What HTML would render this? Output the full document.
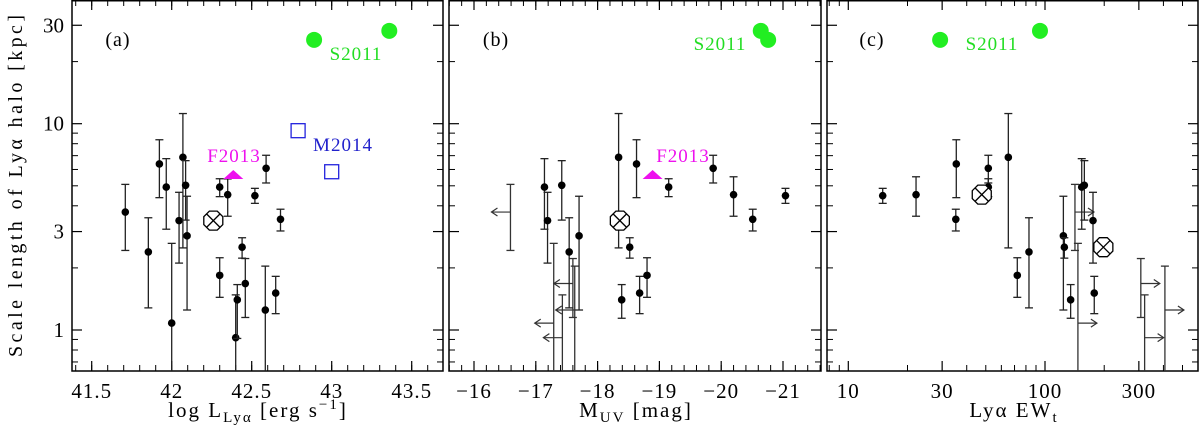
<!DOCTYPE html>
<html><head><meta charset="utf-8"><style>
html,body{margin:0;padding:0;background:#fff;}
svg{display:block;font-family:"Liberation Serif",serif;}
</style></head><body>
<svg id="chart" width="1200" height="431" viewBox="0 0 1200 431" xmlns="http://www.w3.org/2000/svg">
<text transform="translate(22,186) rotate(-90)" text-anchor="middle" font-size="20" textLength="342" lengthAdjust="spacing">Scale length of Lyα halo [kpc]</text>
<g id="pa"></g>
<g id="pb"></g>
<g id="pc"></g>
</svg>
<script>
// ---- data ----
const aLum = [41.71,41.854,41.923,41.966,42.00,42.046,42.07,42.087,42.096,42.30,42.30,42.35,42.40,42.41,42.44,42.46,42.52,42.585,42.59,42.65,42.68];
const aR   = [3.73,2.39,6.38,4.93,1.08,3.39,6.87,5.03,2.86,4.93,1.84,4.53,0.918,1.40,2.52,1.68,4.48,1.25,6.08,1.51,3.44];
const aHi  = [5.08,3.50,8.36,6.77,2.63,4.65,11.2,6.62,4.45,5.41,2.24,5.40,1.48,1.66,2.80,2.22,4.86,2.04,7.03,1.82,3.85];
const aLo  = [2.43,1.28,4.38,3.08,0.5,2.11,2.50,3.41,1.25,4.43,1.44,3.56,0.5,0.91,2.23,1.15,4.11,0.5,5.16,1.20,3.02];
const aStack = [42.26]; const aStackR = [3.39];
const aF2013 = [42.385]; const aF2013R = [5.64];
const aM2014 = [42.79,43.0]; const aM2014R = [9.25,5.85];
const aS2011 = [42.89,43.36]; const aS2011R = [25.5,28.2];

const bMuv = [-17.14,-17.19,-17.42,-17.54,-17.70,-18.34,-18.39,-18.52,-18.63,-18.68,-18.80,-19.15,-19.87,-20.20,-20.51,-21.04];
const bR   = [4.93,3.39,5.03,2.39,2.86,6.87,1.40,2.52,6.38,1.51,1.84,4.93,6.08,4.53,3.44,4.48];
const bHi  = [6.77,4.65,6.62,3.50,4.45,11.2,1.66,2.80,8.36,1.82,2.24,5.41,7.03,5.53,3.85,4.86];
const bLo  = [3.08,2.11,3.41,1.28,1.25,2.50,1.14,2.23,4.38,1.20,1.44,4.43,5.16,3.56,3.02,4.11];
const bLimM = [-16.59,-17.29,-17.43,-17.60,-17.63];
const bLimR = [3.73,1.08,0.918,1.68,1.25];
const bLimHi= [5.08,2.63,1.48,2.22,2.04];
const bLimLo= [2.43,0.5,0.5,1.15,0.5];
const bStack = [-18.36]; const bStackR = [3.39];
const bF2013 = [-18.89]; const bF2013R = [5.64];
const bS2011 = [-20.64,-20.76]; const bS2011R = [28.2,25.5];

const cEW = [14.96,22.1,35.4,35.2,51.5,51.5,65.1,72.3,82.9,124,125.4,135,153.7,158.5,175.4,178];
const cR  = [4.48,4.53,6.38,3.44,6.08,4.93,6.87,1.84,2.39,2.86,2.52,1.40,4.93,5.03,3.39,1.51];
const cHi = [4.86,5.53,8.36,3.85,7.03,5.41,11.2,2.24,3.50,4.45,2.80,1.66,6.77,6.62,4.65,1.82];
const cLo = [4.11,3.56,4.38,3.02,5.16,4.43,2.50,1.44,1.28,1.25,2.23,1.14,3.08,3.41,2.11,1.20];
const cLimEW = [142,147,307,321,407];
const cLimR  = [3.73,1.08,1.68,0.918,1.25];
const cLimHi = [5.08,2.63,2.22,1.48,2.04];
const cLimLo = [2.43,0.5,1.15,0.5,0.5];
const cStack = [47.7,198]; const cStackR = [4.53,2.52];
const cS2011 = [29.3,94.3]; const cS2011R = [25.5,28.2];

const yMajor = [1,3,10,30];
const yLabels = ['1','3','10','30'];
const yMinor = [0.7,0.8,0.9,2,4,5,6,7,8,9,20];
const aTicks = [41.5,42,42.5,43,43.5];
const bTicks = [-16,-17,-18,-19,-20,-21];
const cTicks = [10,30,100,300];
const cMinor = [8,9,20,40,50,60,70,80,90,200,400,500];

// ---- scales ----
const BOT=371;
function yS(v){ return 330 - 206.3*Math.log10(v); }
function xa(v){ return 171.7 + 160*(v-42); }
function xb(m){ return 474 + 61.8*(-m-16); }
function xc(e){ return 848.3 + 196.7*Math.log10(e/10); }
const NS='http://www.w3.org/2000/svg';
function mk(parent, tag, attrs){ const el=document.createElementNS(NS,tag); for(const k in attrs) el.setAttribute(k,attrs[k]); parent.appendChild(el); return el; }
function cy(v){ return Math.min(BOT, yS(v)); }

function frame(g, L, R, xs, ticks, minor, labels, yl){
  const r=mk(g,'rect',{x:L,y:0.75,width:R-L,height:BOT-0.75,fill:'none',stroke:'#000','stroke-width':1.5});
  
  
  yMajor.forEach((v,i)=>{ const y=yS(v);
    mk(g,'line',{x1:L,x2:L+10,y1:y,y2:y,stroke:'#000','stroke-width':1.2});
    mk(g,'line',{x1:R,x2:R-10,y1:y,y2:y,stroke:'#000','stroke-width':1.2});
    if(yl){ const t=mk(g,'text',{x:L-8,y:y+7,'text-anchor':'end','font-size':21});
      
      
      t.textContent=yLabels[i]; } });
  yMinor.forEach(v=>{ const y=yS(v);
    mk(g,'line',{x1:L,x2:L+6,y1:y,y2:y,stroke:'#000','stroke-width':1});
    mk(g,'line',{x1:R,x2:R-6,y1:y,y2:y,stroke:'#000','stroke-width':1}); });
  minor.forEach(v=>{ const x=xs(v); if(x<L||x>R) return;
    mk(g,'line',{x1:x,x2:x,y1:0,y2:6,stroke:'#000','stroke-width':1});
    mk(g,'line',{x1:x,x2:x,y1:BOT,y2:BOT-6,stroke:'#000','stroke-width':1}); });
  ticks.forEach((v,i)=>{ const x=xs(v);
    mk(g,'line',{x1:x,x2:x,y1:0,y2:10,stroke:'#000','stroke-width':1.2});
    mk(g,'line',{x1:x,x2:x,y1:BOT,y2:BOT-10,stroke:'#000','stroke-width':1.2});
    const t=mk(g,'text',{x:x,y:398,'text-anchor':'middle','font-size':21,'letter-spacing':1});
    
    
    t.textContent=labels[i]; });
}
function errPts(g, xs, X, R, Hi, Lo){
  X.forEach((v,i)=>{ const x=xs(v);
    const e=mk(g,'g',{});
    
    
    mk(e,'line',{x1:x,x2:x,y1:yS(Hi[i]),y2:cy(Lo[i]),stroke:'#222','stroke-width':1.3});
    mk(e,'line',{x1:x-4,x2:x+4,y1:yS(Hi[i]),y2:yS(Hi[i]),stroke:'#222','stroke-width':1.3});
    if(yS(Lo[i])<BOT) mk(e,'line',{x1:x-4,x2:x+4,y1:yS(Lo[i]),y2:yS(Lo[i]),stroke:'#222','stroke-width':1.3});
    mk(e,'circle',{cx:x,cy:yS(R[i]),r:3.8,fill:'#000'}); });
}
function limits(g, xs, X, R, Hi, Lo, dir){
  X.forEach((v,i)=>{ const x=xs(v);
    const e=mk(g,'g',{});
    
    
    mk(e,'line',{x1:x,x2:x,y1:yS(Hi[i]),y2:cy(Lo[i]),stroke:'#333','stroke-width':1.3});
    mk(e,'line',{x1:x-4,x2:x+4,y1:yS(Hi[i]),y2:yS(Hi[i]),stroke:'#333','stroke-width':1.3});
    if(yS(Lo[i])<BOT) mk(e,'line',{x1:x-4,x2:x+4,y1:yS(Lo[i]),y2:yS(Lo[i]),stroke:'#333','stroke-width':1.3});
    const y=yS(R[i]), x2=x+dir*19;
    mk(e,'line',{x1:x,x2:x2,y1:y,y2:y,stroke:'#333','stroke-width':1.2});
    mk(e,'polyline',{points:`${x2-dir*6},${y-4} ${x2},${y} ${x2-dir*6},${y+4}`,fill:'none',stroke:'#333','stroke-width':1.2}); });
}
function stack(g, xs, X, R){
  X.forEach((v,i)=>{ const x=xs(v), y=yS(R[i]), r=9.5, k=r*0.414;
    const e=mk(g,'g',{});
    
    
    mk(e,'polygon',{points:`${x-k},${y-r} ${x+k},${y-r} ${x+r},${y-k} ${x+r},${y+k} ${x+k},${y+r} ${x-k},${y+r} ${x-r},${y+k} ${x-r},${y-k}`,fill:'#fff',stroke:'#000','stroke-width':1.3});
    mk(e,'line',{x1:x-6.5,y1:y-6.5,x2:x+6.5,y2:y+6.5,stroke:'#000','stroke-width':1.3});
    mk(e,'line',{x1:x-6.5,y1:y+6.5,x2:x+6.5,y2:y-6.5,stroke:'#000','stroke-width':1.3}); });
}
function green(g, xs, X, R){
  X.forEach((v,i)=>{ const c=mk(g,'circle',{cx:xs(v),cy:yS(R[i]),r:8,fill:'#22ee22'});
    
     });
}
function tri(g, xs, X, R){
  X.forEach((v,i)=>{ const x=xs(v), y=yS(R[i]);
    const p=mk(g,'polygon',{points:`${x-10},${y+4} ${x+10},${y+4} ${x},${y-5}`,fill:'#ee11ee'});
    
     });
}
function label(g, x, y, txt, col, name, size){
  const t=mk(g,'text',{x:x,y:y,'text-anchor':'middle','font-size':size||19,fill:col,'letter-spacing':1});
  
  
  t.textContent=txt; return t;
}

// Panel a
const ga=document.getElementById('pa');
const aMin=[]; for(let v=41.4; v<43.7; v+=0.1) aMin.push(+v.toFixed(1));
frame(ga,72,443,xa,aTicks,aMin,['41.5','42','42.5','43','43.5'],true);
errPts(ga,xa,aLum,aR,aHi,aLo);
stack(ga,xa,aStack,aStackR);
tri(ga,xa,aF2013,aF2013R);
aM2014.forEach((v,i)=>{ const s=mk(ga,'rect',{x:xa(v)-7,y:yS(aM2014R[i])-7,width:14,height:14,fill:'none',stroke:'#2222dd','stroke-width':1.3});
  
   });
green(ga,xa,aS2011,aS2011R);
label(ga,118,46,'(a)','#000','panel-a-label',20);
label(ga,356,60,'S2011','#22dd22','s2011-label');
label(ga,234,162,'F2013','#ee11ee','f2013-label');
label(ga,343,151,'M2014','#2222cc','m2014-label');
const ta=label(ga,258,417,'','#000','x-axis-title-a',21);
ta.setAttribute('letter-spacing','2');
ta.innerHTML='log L<tspan font-size="15" dy="5">Lyα</tspan><tspan dy="-5"> [erg s</tspan><tspan font-size="15" dy="-8">−1</tspan><tspan dy="8">]</tspan>';

// Panel b
const gb=document.getElementById('pb');
const bMin=[]; for(let v=-15.6; v>-21.7; v-=0.2) bMin.push(+v.toFixed(1));
frame(gb,449,821,xb,bTicks,bMin,['−16','−17','−18','−19','−20','−21'],false);
limits(gb,xb,bLimM,bLimR,bLimHi,bLimLo,-1);
errPts(gb,xb,bMuv,bR,bHi,bLo);
stack(gb,xb,bStack,bStackR);
tri(gb,xb,bF2013,bF2013R);
green(gb,xb,bS2011,bS2011R);
label(gb,496,46,'(b)','#000','panel-b-label',20);
label(gb,720,50,'S2011','#22dd22','s2011-label');
label(gb,683,162,'F2013','#ee11ee','f2013-label');
const tb=label(gb,636,417,'','#000','x-axis-title-b',21);
tb.setAttribute('letter-spacing','2');
tb.innerHTML='M<tspan font-size="15" dy="5">UV</tspan><tspan dy="-5"> [mag]</tspan>';

// Panel c
const gc=document.getElementById('pc');
frame(gc,827,1198,xc,cTicks,cMinor,['10','30','100','300'],false);
limits(gc,xc,cLimEW,cLimR,cLimHi,cLimLo,1);
errPts(gc,xc,cEW,cR,cHi,cLo);
stack(gc,xc,cStack,cStackR);
green(gc,xc,cS2011,cS2011R);
label(gc,872,46,'(c)','#000','panel-c-label',20);
label(gc,992,50,'S2011','#22dd22','s2011-label');
const tc=label(gc,1014,417,'','#000','x-axis-title-c',21);
tc.setAttribute('letter-spacing','2');
tc.innerHTML='Lyα EW<tspan font-size="15" dy="5">t</tspan>';
</script>
</body></html>
